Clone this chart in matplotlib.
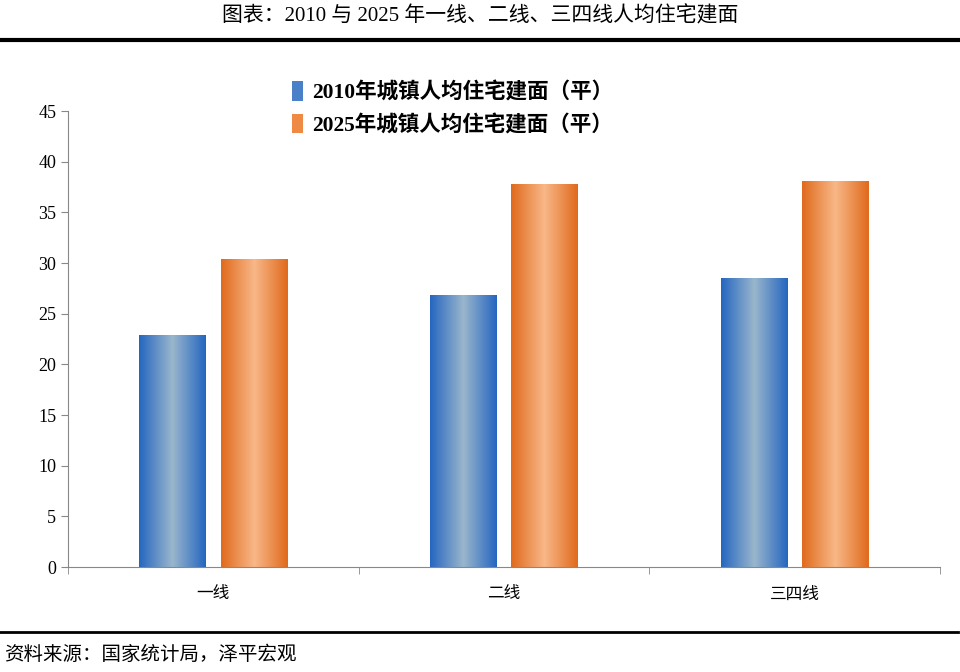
import matplotlib
matplotlib.use("Agg")
import matplotlib.pyplot as plt
import numpy as np
from matplotlib.colors import LinearSegmentedColormap
from matplotlib.patches import Patch

plt.rcParams['font.family'] = ['Liberation Serif', 'Noto Sans CJK SC', 'DejaVu Sans']

categories = ["一线", "二线", "三四线"]
v2010 = [22.9, 26.8, 28.5]
v2025 = [30.4, 37.8, 38.1]
labels = ["2010年城镇人均住宅建面（平）", "2025年城镇人均住宅建面（平）"]

blue_cm = LinearSegmentedColormap.from_list("b", ["#2566c0", "#9ab6cc", "#2566c0"])
orange_cm = LinearSegmentedColormap.from_list("o", ["#e06a1c", "#f8b888", "#e06a1c"])

fig = plt.figure(figsize=(9.6, 6.72), dpi=100)
ax = fig.add_axes([68/960, 1-567/672, (940-68)/960, (567-111)/672])

x = np.arange(len(categories))
w = 0.23
grad = np.linspace(0, 1, 256).reshape(1, -1)


def grad_bars(xs, vals, cmap):
    for xi, v in zip(xs, vals):
        bar = ax.bar(xi, v, w, color="none", edgecolor="none")[0]
        im = ax.imshow(grad, cmap=cmap, aspect="auto",
                       extent=[xi - w/2, xi + w/2, 0, v], zorder=2)
        im.set_clip_path(bar)


grad_bars(x - 0.14, v2010, blue_cm)
grad_bars(x + 0.14, v2025, orange_cm)

ax.set_xlim(-0.5, 2.5)
ax.set_ylim(0, 45)
ax.set_yticks(range(0, 46, 5))
ax.set_xticks(x)
ax.set_xticklabels(categories, fontsize=12)
ax.set_xticks([-0.5, 0.5, 1.5, 2.5], minor=True)
ax.tick_params(axis="x", which="major", length=0, pad=14)
ax.tick_params(axis="x", which="minor", length=5, color="#888888")
ax.tick_params(axis="y", labelsize=13, length=5, color="#888888")
for s in ["top", "right"]:
    ax.spines[s].set_visible(False)
for s in ["left", "bottom"]:
    ax.spines[s].set_color("#888888")

handles = [Patch(facecolor="#4a80c8"), Patch(facecolor="#ef8a45")]
fig.legend(handles, labels, loc="upper left", bbox_to_anchor=(273/960, 1-62/672),
           frameon=False, prop={"weight": "bold", "size": 15.5}, handlelength=0.5,
           handleheight=1.0, labelspacing=0.5, handletextpad=0.4)

fig.text(0.5, 1-16/672, "图表：2010 与 2025 年一线、二线、三四线人均住宅建面",
         ha="center", va="center", fontsize=15)
fig.add_artist(plt.Line2D([0, 958/960], [1-40/672]*2, color="black", lw=3))
fig.add_artist(plt.Line2D([0, 958/960], [1-632/672]*2, color="black", lw=2))
fig.text(4/960, 1-655/672, "资料来源：国家统计局，泽平宏观", ha="left", va="center",
         fontsize=14, style="italic")

fig.savefig("out.png", dpi=100)
